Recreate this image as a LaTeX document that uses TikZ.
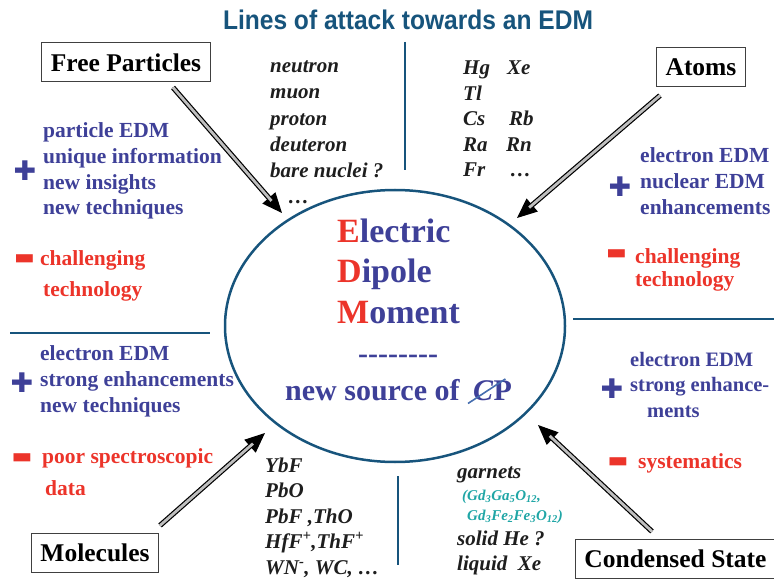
\documentclass[tikz,border=0pt]{standalone}
\usepackage{fontspec}
\setmainfont{Liberation Serif}
\newfontfamily\titlefont{Liberation Sans}
\newfontfamily\signfont{DejaVu Sans}
\usepackage{graphicx}
\usepackage{tikz}
\usetikzlibrary{arrows.meta,shapes.geometric}
\usepackage{xcolor}
\definecolor{edmteal}{RGB}{23,84,124}
\definecolor{edmblue}{RGB}{62,64,152}
\definecolor{edmred}{RGB}{236,52,42}
\definecolor{edmcyan}{RGB}{32,166,166}
\definecolor{edmink}{RGB}{30,30,30}
\definecolor{edmslash}{RGB}{70,110,175}

\begin{document}
\begin{tikzpicture}[x=1pt,y=-1pt,
  srcbox/.style={draw=black!75, line width=1pt, inner xsep=9pt, minimum height=39pt,
    font=\fontsize{25.5}{30}\selectfont\bfseries},
  pro/.style={anchor=base west, inner sep=0pt, align=left, text=edmblue,
    font=\fontsize{21.5}{26}\selectfont\bfseries},
  con/.style={pro, text=edmred},
  lst/.style={anchor=base west, inner sep=0pt, align=left, text=edmink,
    font=\fontsize{21}{26}\selectfont\bfseries\itshape},
  formula/.style={anchor=base west, inner sep=0pt, text=edmcyan,
    font=\fontsize{15}{18}\selectfont\bfseries\itshape},
  plussign/.style={inner sep=0pt, text=edmblue, font=\signfont\fontsize{27}{27}\selectfont},
  minussign/.style={inner sep=0pt, text=edmred, font=\signfont\fontsize{22}{22}\selectfont},
  edmword/.style={anchor=base west, inner sep=0pt, text=edmblue,
    font=\fontsize{34}{40}\selectfont\bfseries},
  divider/.style={draw=edmteal, line width=2.6pt},
  feedhead/.style={line width=1.2pt, -{Triangle[length=20pt,width=17pt]}},
  feedshaft/.style={line width=1.2pt, double=black!25, double distance=2.8pt, shorten >=16pt},
]
\useasboundingbox (0,0) rectangle (774,580);

% title
\node[anchor=base, inner sep=0pt, text=edmteal] (title) at (408,30)
  {\scalebox{0.91}[1]{\titlefont\bfseries\fontsize{27}{30}\selectfont Lines of attack towards an EDM}};

% central ellipse
\node[draw=edmteal, line width=2.5pt, ellipse, minimum width=340pt, minimum height=272pt, inner sep=0pt] (edm) at (395,326) {};
\node[edmword] (el) at (337,243) {\textcolor{edmred}{E}lectric};
\node[edmword] (di) at (337,283) {\textcolor{edmred}{D}ipole};
\node[edmword] (mo) at (337,323) {\textcolor{edmred}{M}oment};
\node[edmword, font=\fontsize{30}{36}\selectfont\bfseries] (dash) at (358,363)
  {-\kern0pt-\kern0pt-\kern0pt-\kern0pt-\kern0pt-\kern0pt-\kern0pt-};
\node[edmword, font=\fontsize{30}{36}\selectfont\bfseries] (src) at (285,400) {new source of};
\node[edmword, font=\fontsize{30}{36}\selectfont\bfseries\itshape] (cc) at (473,400) {C};
\node[edmword, font=\fontsize{30}{36}\selectfont\bfseries] (pp) at (cc.base east) {P};
\draw[edmslash, line width=1.6pt] ([shift={(-5,3)}]cc.south west) -- ([shift={(12,-1)}]cc.north east);

% dividers
\draw[divider] (405,42) -- (405,170);
\draw[divider] (398,476) -- (398,565);
\draw[divider] (10,333) -- (210,333);
\draw[divider] (573,319) -- (774,319);

% sources
\node[srcbox] (fp) at (126,62.5) {Free Particles};
\node[srcbox] (at) at (701,67.5) {Atoms};
\node[srcbox] (mol) at (95,552.5) {Molecules};
\node[srcbox] (cs) at (675.5,558.5) {Condensed State};

\coordinate (fpstart) at ([shift={(47,5)}]fp.south);
\coordinate (atstart) at ([shift={(-41,8)}]at.south);
\coordinate (molstart) at ([shift={(65,-7)}]mol.north);
\coordinate (csstart) at ([shift={(-23.5,-7)}]cs.north);
\coordinate (fptip) at (282,213);
\coordinate (attip) at (517,218);
\coordinate (moltip) at (265,433);
\coordinate (cstip) at (538,425);
\foreach \s/\t in {fpstart/fptip, atstart/attip, molstart/moltip, csstart/cstip}{
  \draw[feedhead] (\s) -- (\t);
  \draw[feedshaft] (\s) -- (\t);
}

% free particles
\node[lst, font=\fontsize{21}{26.3}\selectfont\bfseries\itshape] (fplist) at (270,204)
  {neutron\\muon\\proton\\deuteron\\bare nuclei ?\\\hspace*{18pt}…};
\node[plussign] (fpplus) at (25,171) {✚};
\node[pro, font=\fontsize{21.5}{25.7}\selectfont\bfseries] (fppro) at (43,215)
  {particle EDM\\unique information\\new insights\\new techniques};
\node[minussign] (fpminus) at (24.5,260) {▬};
\node[con] (fpcon) at (40,297) {challenging\\[6pt]\hspace*{3pt}technology};

% atoms
\node[lst, font=\fontsize{21}{25.6}\selectfont\bfseries\itshape] (atlist) at (463,177)
  {\makebox[44pt][l]{Hg}Xe\\Tl\\\makebox[46pt][l]{Cs}Rb\\\makebox[43pt][l]{Ra}Rn\\\makebox[47pt][l]{Fr}…};
\node[plussign] (atplus) at (620,187) {✚};
\node[pro] (atpro) at (640,215) {electron EDM\\nuclear EDM\\enhancements};
\node[minussign] (atminus) at (616.5,255) {▬};
\node[con] (atcon) at (635,287) {challenging\\[-2pt]technology};

% molecules
\node[lst, font=\fontsize{21}{25.5}\selectfont\bfseries\itshape] (mollist) at (265,574)
  {YbF\\PbO\\PbF ,ThO\\HfF\textsuperscript{+},ThF\textsuperscript{+}\\WN\textsuperscript{-}, WC, …};
\node[plussign] (molplus) at (22,383) {✚};
\node[pro] (molpro) at (40,412) {electron EDM\\strong enhancements\\new techniques};
\node[minussign] (molminus) at (22,459) {▬};
\node[con] (molcon) at (42,495) {poor spectroscopic\\[6pt]\hspace*{3pt}data};

% condensed state
\node[lst] (grn) at (457,478) {garnets};
\node[formula] (gf1) at (462,500) {(Gd\textsubscript{3}Ga\textsubscript{5}O\textsubscript{12},};
\node[formula] (gf2) at (467,520) {Gd\textsubscript{3}Fe\textsubscript{2}Fe\textsubscript{3}O\textsubscript{12})};
\node[lst, font=\fontsize{21}{25}\selectfont\bfseries\itshape] (cslist) at (457,570) {solid He ?\\liquid\ \ Xe};
\node[plussign] (csplus) at (612,389) {✚};
\node[pro, font=\fontsize{20.5}{25.5}\selectfont\bfseries] (cspro) at (630,417)
  {electron EDM\\strong enhance-\\\hspace*{17pt}ments};
\node[minussign] (csminus) at (618,463) {▬};
\node[con] (cscon) at (638,468) {systematics};
\end{tikzpicture}
\end{document}
